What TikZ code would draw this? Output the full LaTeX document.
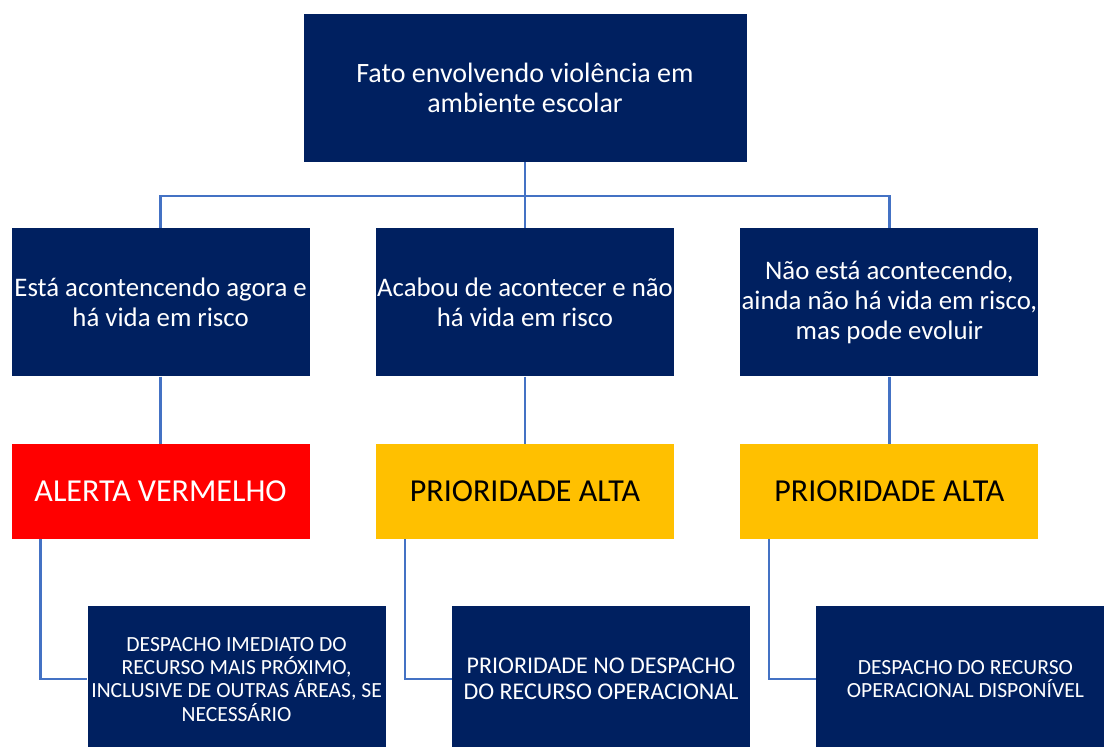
\documentclass[tikz,border=0pt]{standalone}
\usepackage{fontspec}
\setmainfont{Carlito}
\usetikzlibrary{positioning}
\definecolor{navy}{HTML}{002060}
\definecolor{alertred}{HTML}{FF0000}
\definecolor{amber}{HTML}{FFC000}
\definecolor{linkblue}{HTML}{4472C4}
\begin{document}
\begin{tikzpicture}[x=1pt,y=-1pt,
  box/.style={fill=navy,text=white,align=center,inner sep=0pt,
    minimum width=298pt,minimum height=148pt,font=\fontsize{26.8}{30}\selectfont},
  level/.style={box,minimum height=95pt,font=\fontsize{32}{36}\selectfont},
  order/.style={box,minimum height=146pt,font=\fontsize{21.6}{23.3}\selectfont},
  link/.style={draw=linkblue,line width=2.5pt}]
\useasboundingbox (0,0) rectangle (1104,747);
\clip (0,0) rectangle (1104,747);
	\draw
	node[box,minimum width=443pt,font=\fontsize{28}{30}\selectfont] at (525,88) (fato) {Fato envolvendo violência em\\ambiente escolar}
	node[box,below=66pt of fato] (agora2) {Acabou de acontecer e não\\há vida em risco}
	node[box,left=66pt of agora2] (agora1) {Está acontencendo agora e\\há vida em risco}
	node[box,right=66pt of agora2] (agora3) {Não está acontecendo,\\ainda não há vida em risco,\\mas pode evoluir}
	node[level,fill=alertred,below=67pt of agora1] (nivel1) {ALERTA VERMELHO}
	node[level,fill=amber,text=black,below=67pt of agora2] (nivel2) {PRIORIDADE ALTA}
	node[level,fill=amber,text=black,below=67pt of agora3] (nivel3) {PRIORIDADE ALTA}
	node[order,below=67pt of nivel1,xshift=76pt] (desp1) {DESPACHO IMEDIATO DO\\RECURSO MAIS PRÓXIMO,\\INCLUSIVE DE OUTRAS ÁREAS, SE\\NECESSÁRIO}
	node[order,below=67pt of nivel2,xshift=76pt,font=\fontsize{24}{26}\selectfont] (desp2) {PRIORIDADE NO DESPACHO\\DO RECURSO OPERACIONAL}
	node[order,below=67pt of nivel3,xshift=76pt] (desp3) {DESPACHO DO RECURSO\\OPERACIONAL DISPONÍVEL};
	\draw[link] (fato) -- (agora2);
	\draw[link] (fato.south) ++(0,34) coordinate (ramo) -| (agora1);
	\draw[link] (ramo) -| (agora3);
	\foreach \i in {1,2,3} {
		\draw[link] (agora\i) -- (nivel\i);
		\draw[link] ([xshift=29pt]nivel\i.south west) |- (desp\i);
	}
\end{tikzpicture}
\end{document}
